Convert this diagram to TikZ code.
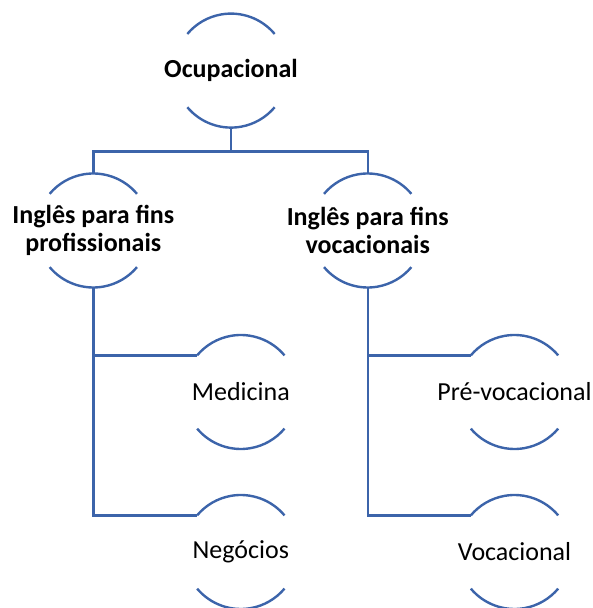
\documentclass[tikz,border=0pt]{standalone}
\usepackage{fontspec}
\setmainfont{Carlito}
\usepackage{tikz}
\usetikzlibrary{calc,positioning}
\definecolor{linkblue}{RGB}{60,100,170}

\begin{document}
\begin{tikzpicture}[x=1pt,y=1pt,
	ring/.style={circle,minimum size=114pt,inner sep=0pt,outer sep=0pt},
	rim/.style={linkblue,line width=2.4pt},
	tag/.style={font=\fontsize{26}{28.5}\selectfont,align=center},
	btag/.style={tag,font=\fontsize{26}{28.5}\selectfont\bfseries}]
			\useasboundingbox (0,0) rectangle (592,608);
			\begin{scope}
				% circles that carry the arcs
				\node[ring] (ocup) at (231,537.4) {};
				\node[ring] (prof) at (93.3,377.5) {};
				\node[ring] (voc) at (367.7,377.5) {};
				\node[ring] (med) at (240.8,216) {};
				\node[ring] (neg) at (240.8,56) {};
				\node[ring] (prevoc) at (514.5,216) {};
				\node[ring] (vocl) at (514.5,56) {};
				% texts
				\node[btag] (ocupt) at (ocup) {Ocupacional};
				\node[btag] (proft) at (prof) {Inglês para fins\\profissionais};
				\node[btag] (voct) at (voc) {Inglês para fins\\vocacionais};
				\node[tag] (medt) at (med) {Medicina};
				\node[tag] (negt) at (neg) {Negócios};
				\node[tag] (prevoct) at (prevoc) {Pré-vocacional};
				\node[tag] (voclt) at (vocl) {Vocacional};
				\foreach \n in {ocup,prof,voc,med,neg,prevoc,vocl}{
					\draw[rim] (\n.40) arc (40:140:57pt);
					\draw[rim] (\n.220) arc (220:320:57pt);
				}
				% connectors
				\draw[rim] (ocup.south) -- ++(0,-24) -| (prof.north);
				\draw[rim] (ocup.south) -- ++(0,-24) -| (voc.north);
				\draw[rim] (prof.south) |- (med.140);
				\draw[rim] (prof.south) |- (neg.140);
				\draw[rim] (voc.south) |- (prevoc.140);
				\draw[rim] (voc.south) |- (vocl.140);
			\end{scope}
		\end{tikzpicture}
\end{document}
